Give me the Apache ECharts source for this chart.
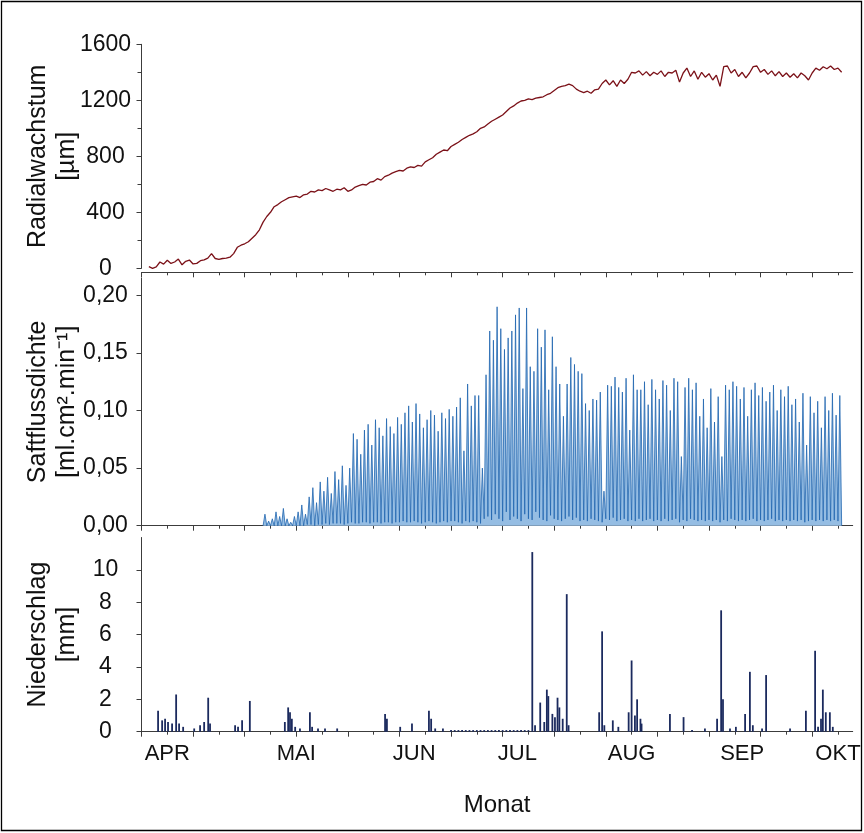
<!DOCTYPE html>
<html>
<head>
<meta charset="utf-8">
<script src="https://cdn.jsdelivr.net/npm/echarts@6/dist/echarts.min.js"></script>
<style>
  html, body { margin: 0; padding: 0; background: #fff; }
  #chart { width: 864px; height: 833px; }
</style>
</head>
<body>
<div id="chart"></div>
<script>
// x axis = days since 1 April
var X_MAX = 193;
var monthNames = ['APR', 'MAI', 'JUN', 'JUL', 'AUG', 'SEP', 'OKT'];
var monthDays = [7, 42, 74, 102, 133, 163, 189];

// Radialwachstum [µm], one value per day from growthStart
var growthStart = 2;
var growth = [
  12, 0, 10, 45, 30, 58, 35, 45, 66, 25,
  50, 59, 31, 35, 54, 60, 73, 105, 70, 64,
  70, 72, 79, 105, 150, 165, 175, 190, 215, 240,
  275, 330, 370, 400, 440, 455, 475, 490, 505, 510,
  515, 505, 525, 530, 550, 545, 560, 555, 570, 560,
  550, 565, 560, 575, 550, 560, 580, 590, 600, 595,
  615, 620, 640, 630, 655, 665, 680, 690, 700, 695,
  715, 725, 720, 735, 730, 760, 775, 790, 815, 830,
  845, 840, 870, 885, 900, 920, 935, 950, 960, 975,
  1000, 1010, 1030, 1050, 1065, 1080, 1095, 1120, 1145, 1160,
  1180, 1195, 1200, 1210, 1205, 1215, 1220, 1225, 1240, 1250,
  1270, 1290, 1300, 1305, 1315, 1305, 1280, 1265, 1255, 1265,
  1250, 1275, 1280, 1320, 1345, 1310, 1340, 1300, 1345, 1320,
  1350, 1400, 1395, 1410, 1380, 1405, 1375, 1400, 1385, 1410,
  1370, 1400, 1395, 1415, 1330, 1395, 1430, 1370, 1410, 1350,
  1400, 1365, 1390, 1345, 1380, 1300, 1440, 1445, 1395, 1420,
  1370, 1400, 1360, 1395, 1440, 1445, 1400, 1420, 1385, 1410,
  1375, 1405, 1370, 1395, 1365, 1390, 1360, 1395, 1375, 1345,
  1395, 1430, 1415, 1440, 1425, 1445, 1420, 1430, 1400
];

// Saftflussdichte: daily maximum (midday) and minimum (night), from sapStart
var sapStart = 33;
var sapPeak = [
  0.010, 0.004, 0.006, 0.012, 0.008, 0.015, 0.006, 0.003, 0.008, 0.012,
  0.018, 0.010, 0.025, 0.033, 0.020, 0.038, 0.030, 0.042, 0.028, 0.047,
  0.040, 0.052, 0.035, 0.050, 0.080, 0.075, 0.062, 0.083, 0.088, 0.070,
  0.092, 0.085, 0.078, 0.093, 0.086, 0.080, 0.094, 0.088, 0.098, 0.104,
  0.090, 0.106, 0.097, 0.085, 0.092, 0.100, 0.096, 0.082, 0.098, 0.093,
  0.101, 0.095, 0.103, 0.111, 0.065, 0.123, 0.104, 0.113, 0.113, 0.050,
  0.131, 0.169, 0.161, 0.190, 0.171, 0.153, 0.163, 0.169, 0.183, 0.189,
  0.119, 0.189, 0.138, 0.134, 0.171, 0.155, 0.170, 0.118, 0.164, 0.138,
  0.123, 0.095, 0.123, 0.146, 0.140, 0.134, 0.132, 0.106, 0.100, 0.110,
  0.109, 0.116, 0.030, 0.122, 0.121, 0.129, 0.120, 0.116, 0.128, 0.083,
  0.131, 0.118, 0.118, 0.125, 0.105, 0.127, 0.118, 0.110, 0.126, 0.122,
  0.100, 0.128, 0.125, 0.060, 0.120, 0.128, 0.118, 0.124, 0.095, 0.110,
  0.085, 0.119, 0.090, 0.112, 0.060, 0.122, 0.118, 0.125, 0.121, 0.110,
  0.120, 0.095, 0.118, 0.124, 0.113, 0.120, 0.108, 0.116, 0.122, 0.100,
  0.118, 0.112, 0.121, 0.105, 0.110, 0.090, 0.115, 0.070, 0.112, 0.098,
  0.108, 0.085, 0.112, 0.100, 0.115, 0.096, 0.113
];
var sapNight = [
  0, 0, 0, 0, 0, 0, 0, 0, 0, 0,
  0, 0, 0.001, 0.001, 0, 0.001, 0.001, 0.002, 0.001, 0.002,
  0.002, 0.002, 0.001, 0.002, 0.003, 0.002, 0.002, 0.003, 0.003, 0.002,
  0.003, 0.003, 0.002, 0.003, 0.003, 0.002, 0.003, 0.003, 0.004, 0.003,
  0.003, 0.004, 0.003, 0.002, 0.003, 0.004, 0.003, 0.002, 0.003, 0.004,
  0.003, 0.004, 0.004, 0.003, 0.002, 0.004, 0.003, 0.004, 0.003, 0.002,
  0.006, 0.008, 0.005, 0.010, 0.006, 0.004, 0.012, 0.005, 0.008, 0.006,
  0.004, 0.010, 0.006, 0.005, 0.012, 0.007, 0.005, 0.004, 0.009, 0.006,
  0.005, 0.004, 0.006, 0.008, 0.005, 0.007, 0.004, 0.005, 0.004, 0.006,
  0.005, 0.004, 0.003, 0.006, 0.005, 0.007, 0.004, 0.005, 0.006, 0.004,
  0.005, 0.004, 0.006, 0.004, 0.005, 0.006, 0.004, 0.005, 0.004, 0.006,
  0.004, 0.005, 0.006, 0.003, 0.005, 0.004, 0.006, 0.005, 0.004, 0.005,
  0.004, 0.005, 0.004, 0.005, 0.003, 0.005, 0.004, 0.006, 0.005, 0.004,
  0.005, 0.004, 0.005, 0.006, 0.004, 0.005, 0.004, 0.005, 0.006, 0.004,
  0.005, 0.004, 0.005, 0.004, 0.005, 0.004, 0.005, 0.003, 0.004, 0.005,
  0.004, 0.005, 0.004, 0.005, 0.004, 0.005, 0.004
];

// Niederschlag [mm]
var rainDays = [
  4.5, 5.6, 6.4, 7.2, 8.3, 9.4, 10.2, 11.3, 14.3, 15.9,
  17.0, 18.1, 18.6, 25.4, 26.2, 27.3, 29.4, 38.9, 39.8, 40.3,
  40.8, 41.7, 43.0, 45.7, 46.3, 47.9, 49.8, 53.1, 66.1, 66.6,
  70.2, 73.4, 78.0, 78.6, 79.7, 81.8,
  84, 85, 86, 87, 88, 89, 90, 91, 92, 93, 94,
  95, 96, 97, 98, 99, 100, 101, 102, 103, 104, 105,
  106.05, 106.8, 108.2, 109.3, 110.0, 110.4, 111.5, 112.2, 112.9, 113.4,
  114.3, 115.4, 115.9, 124.2, 125.0, 125.6, 127.9, 129.4, 132.2, 133.0,
  133.9, 134.5, 135.4, 135.7, 143.4, 147.1, 149.4, 152.9, 156.2, 157.3,
  157.8, 159.7, 161.3, 163.8, 165.1, 165.9, 168.4, 169.5, 176.0, 180.3,
  182.8, 183.6, 184.4, 184.9, 185.7, 186.8, 187.6
];
var rainMm = [
  1.3, 0.7, 0.8, 0.6, 0.5, 2.3, 0.5, 0.3, 0.2, 0.4,
  0.6, 2.1, 0.5, 0.4, 0.3, 0.7, 1.9, 0.6, 1.5, 1.2,
  0.8, 0.3, 0.2, 1.2, 0.3, 0.2, 0.2, 0.2, 1.1, 0.8,
  0.3, 0.5, 1.3, 0.8, 0.2, 0.2,
  0.1, 0.1, 0.1, 0.1, 0.1, 0.1, 0.1, 0.1, 0.1, 0.1, 0.1,
  0.1, 0.1, 0.1, 0.1, 0.1, 0.1, 0.1, 0.1, 0.1, 0.1, 0.1,
  11.1, 0.4, 1.8, 0.6, 2.6, 2.2, 1.1, 0.9, 2.1, 1.5,
  0.8, 8.5, 0.4, 1.2, 6.2, 0.4, 0.7, 0.3, 1.2, 4.4,
  1.0, 2.0, 0.8, 0.5, 1.1, 0.9, 0.1, 0.2, 0.8, 7.5,
  2.0, 0.2, 0.3, 1.1, 3.7, 0.4, 0.2, 3.5, 0.2, 1.3,
  5.0, 0.3, 0.8, 2.6, 1.2, 1.2, 0.3
];

var FONT = '"Liberation Sans", Arial, sans-serif';
var AXIS_COLOR = '#3c3c3c';

// weekly ticks, longer every second week
var majorWeeks = [], minorWeeks = [];
for (var w = 0; w * 7 < X_MAX; w++) {
  if (w % 2 === 0) majorWeeks.push(w * 7); else minorWeeks.push(w * 7);
}

var growthData = growth.map(function (v, i) { return [growthStart + i, v]; });
var sapData = [];
sapPeak.forEach(function (p, i) {
  sapData.push([sapStart + i, sapNight[i]]);
  sapData.push([sapStart + i + 0.5, p]);
});
sapData.push([sapStart + sapPeak.length, 0]);
var rainData = rainDays.map(function (d, i) { return [d, rainMm[i]]; });

var grids = [
  { left: 141.5, right: 11.3, top: 44.3, height: 224 },
  { left: 141.5, right: 11.3, top: 278, height: 247.7 },
  { left: 141.5, right: 11.3, top: 537.5, height: 194.2 }
];

function weekAxis(g, ticks, len, withLine) {
  return {
    type: 'value', gridIndex: g, min: 0, max: X_MAX, position: 'bottom',
    offset: g === 0 ? 4 : 0,
    axisLine: { show: withLine, onZero: false, lineStyle: { color: AXIS_COLOR, width: 1 } },
    axisTick: { show: true, inside: false, length: len, customValues: ticks,
      lineStyle: { color: AXIS_COLOR, width: 1 } },
    axisLabel: { show: false },
    splitLine: { show: false }
  };
}

var xAxes = [];
for (var g = 0; g < 3; g++) {
  xAxes.push(weekAxis(g, majorWeeks, 5, true));
  xAxes.push(weekAxis(g, minorWeeks, 3, false));
}
// month labels
xAxes.push({
  type: 'value', gridIndex: 2, min: 0, max: X_MAX, position: 'bottom',
  axisLine: { show: false }, axisTick: { show: false }, splitLine: { show: false },
  axisLabel: {
    show: true, customValues: monthDays, margin: 11,
    fontFamily: FONT, fontSize: 22, color: '#111',
    formatter: function (v) { return monthNames[monthDays.indexOf(v)] || ''; }
  },
  name: 'Monat', nameLocation: 'middle', nameGap: 62, nameMoveOverlap: false,
  nameTextStyle: { fontFamily: FONT, fontSize: 24, color: '#111' }
});

// tick labels are centred in a fixed-width box left of the axis
function yAxis(g, max, interval, name, fmt, minor) {
  return {
    type: 'value', gridIndex: g, min: 0, max: max, interval: interval,
    axisLine: { show: true, lineStyle: { color: AXIS_COLOR, width: 1 } },
    axisTick: { show: true, inside: false, length: 5, lineStyle: { color: AXIS_COLOR } },
    minorTick: { show: !!minor, splitNumber: 2, length: 4, lineStyle: { color: AXIS_COLOR } },
    splitLine: { show: false },
    axisLabel: {
      margin: 10, color: '#111',
      showMaxLabel: g !== 0 ? false : true,
      formatter: function (v) { return '{c|' + fmt(v) + '}'; },
      rich: { c: { width: 52, align: 'center', fontFamily: FONT, fontSize: 23, color: '#111' } }
    },
    name: name, nameLocation: 'middle', nameRotate: 90, nameGap: 60, nameMoveOverlap: false,
    nameTextStyle: { fontFamily: FONT, fontSize: 25, lineHeight: 29, color: '#111', align: 'center' }
  };
}

var option = {
  animation: false,
  backgroundColor: '#fff',
  grid: grids,
  xAxis: xAxes,
  yAxis: [
    yAxis(0, 1600, 400, 'Radialwachstum\n[µm]', function (v) { return String(v); }, true),
    yAxis(1, 0.215, 0.05, 'Saftflussdichte\n[ml.cm².min⁻¹]',
      function (v) { return v.toFixed(2).replace('.', ','); }, false),
    yAxis(2, 12, 2, 'Niederschlag\n[mm]', function (v) { return String(v); }, false)
  ],
  series: [
    {
      type: 'line', xAxisIndex: 0, yAxisIndex: 0, data: growthData,
      showSymbol: false, symbol: 'none',
      lineStyle: { color: '#7b1118', width: 1.3 }
    },
    {
      type: 'line', xAxisIndex: 2, yAxisIndex: 1, data: sapData,
      showSymbol: false, symbol: 'none',
      lineStyle: { color: '#2166b0', width: 0.8 },
      areaStyle: { color: '#95bde3', opacity: 1 }
    },
    {
      type: 'bar', xAxisIndex: 4, yAxisIndex: 2, data: rainData,
      barWidth: 1.8, itemStyle: { color: '#1b2a5e' }
    }
  ],
  graphic: [{
    type: 'rect', silent: true, z: 100,
    shape: { x: 1.5, y: 1.5, width: 860, height: 829 },
    style: { fill: null, stroke: '#000', lineWidth: 1.3 }
  }]
};

var chart = echarts.init(document.getElementById('chart'), null, { renderer: 'canvas' });
chart.setOption(option);
</script>
</body>
</html>
